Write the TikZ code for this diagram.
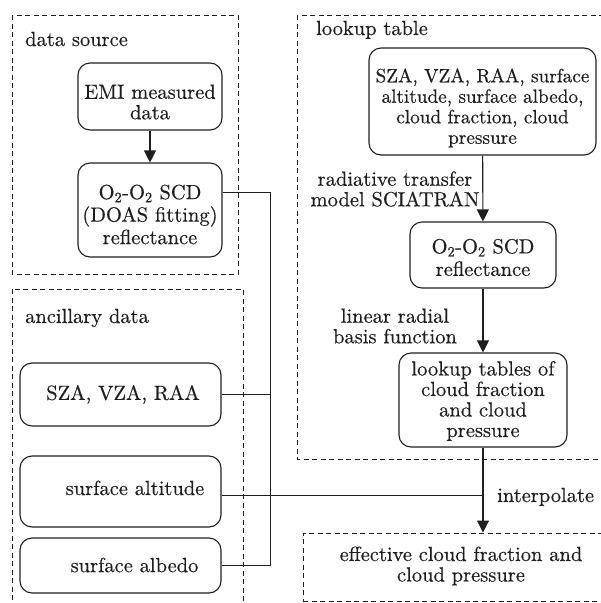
\documentclass[tikz,border=0pt]{standalone}
\usepackage{fontspec}
\setmainfont{lmroman10-regular.otf}[FakeBold=0.4]
\usetikzlibrary{arrows.meta}
\definecolor{ink}{RGB}{30,30,30}
\begin{document}
\begin{tikzpicture}[x=1pt,y=-1pt,
  group/.style={draw=ink, line width=1pt, dash pattern=on 5pt off 3.5pt},
  procbox/.style={draw=ink, line width=1.1pt, rounded corners=12pt, inner sep=0pt},
  txt/.style={text=ink, font=\fontsize{20.5}{20.5}\selectfont, align=center, inner sep=0pt},
  loose/.style={font=\fontsize{20.5}{22.5}\selectfont},
  small/.style={font=\fontsize{19.2}{20.5}\selectfont},
  flow/.style={draw=ink, line width=1.1pt, -{Triangle[length=12pt,width=12pt]}},
  link/.style={draw=ink, line width=1pt}]
\useasboundingbox (0,0) rectangle (601,603);
\clip (0,0) rectangle (601,603);

% group frames
\draw[group] (12,15) rectangle (238,274);
\draw[group] (12,289) rectangle (243,610);
\draw[group] (297,15) rectangle (610,459);
\node[txt, anchor=base west] (gsrc) at (25,46) {data source};
\node[txt, anchor=base west] (ganc) at (25,323) {ancillary data};
\node[txt, anchor=base west] (glut) at (316,35) {lookup table};

% data source
\node[procbox, minimum width=144pt, minimum height=67pt] (emi) at (150,96.5) {};
\node[txt] (emiT) at (150,102) {EMI measured\\data};
\node[procbox, minimum width=144pt, minimum height=94pt] (o2) at (150,210) {};
\node[txt, loose] (o2T) at (150,214.5) {O\textsubscript{2}-O\textsubscript{2} SCD\\(DOAS fitting)\\reflectance};

% ancillary data
\node[procbox, minimum width=201pt, minimum height=63pt] (sza) at (120.5,394.5) {};
\node[txt] (szaT) at (123,394.5) {SZA, VZA, RAA};
\node[procbox, minimum width=201pt, minimum height=71pt] (alt) at (120.5,491.5) {};
\node[txt, anchor=base] (altT) at (135,495) {surface altitude};
\node[procbox, minimum width=201pt, minimum height=55pt] (alb) at (120.5,565.5) {};
\node[txt] (albT) at (134.5,565) {surface albedo};

% lookup table
\node[procbox, minimum width=227pt, minimum height=107pt] (lut0) at (482.5,101.5) {};
\node[txt, small] (lut0T) at (482.5,108) {SZA, VZA, RAA, surface\\altitude, surface albedo,\\cloud fraction, cloud\\pressure};
\node[procbox, minimum width=146pt, minimum height=66pt] (lut1) at (483,255) {};
\node[txt, loose] (lut1T) at (483,257.5) {O\textsubscript{2}-O\textsubscript{2} SCD\\reflectance};
\node[procbox, minimum width=168pt, minimum height=94pt] (lut2) at (483,400) {};
\node[txt] (lut2T) at (483,401) {lookup tables of\\cloud fraction\\and cloud\\pressure};
\node[txt] (rtm) at (395,189) {radiative transfer\\model SCIATRAN};
\node[txt] (rbf) at (395,326) {linear radial\\basis function};

% result
\node[group, minimum width=303pt, minimum height=68pt, inner sep=0pt] (eff) at (454.5,567) {};
\node[txt] (effT) at (461,566) {effective cloud fraction and\\cloud pressure};
\node[txt, anchor=base west] (interp) at (497,502) {interpolate};

% connectors
\draw[flow] (emi) -- (o2);
\draw[flow] (lut0) -- (lut1);
\draw[flow] (lut1) -- (lut2);
\draw[flow] (lut2.south) -- (lut2.south |- eff.north);

\coordinate (bus) at (270,192);
\coordinate (altj) at (483,495);
\draw[link] (o2.east |- bus) -- (bus) -- (bus |- alb.east) -- (alb.east);
\draw[link] (sza.east) -- (sza.east -| bus);
\draw[link] (alt.east |- altj) -- (altj);
\end{tikzpicture}
\end{document}
